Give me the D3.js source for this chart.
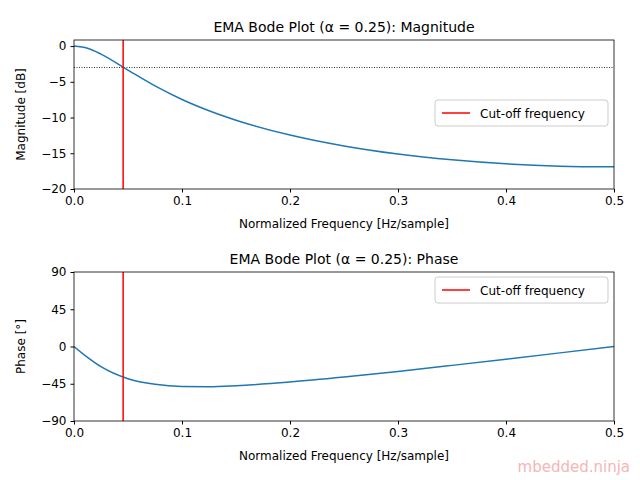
<!DOCTYPE html>
<html><head><meta charset="utf-8">
<script src="https://cdn.jsdelivr.net/npm/d3@7"></script>
<style>body{margin:0;background:#fff}text{font-family:"DejaVu Sans",sans-serif}</style>
</head><body><svg id="c" width="640" height="480"></svg>
<script>
const freqs=[0,0.0125,0.025,0.05,0.075,0.1,0.125,0.15,0.2,0.25,0.3,0.35,0.4,0.45,0.5];
const magDb=[0,-0.31,-1.12,-3.37,-5.58,-7.48,-9.05,-10.37,-12.45,-13.98,-15.11,-15.92,-16.48,-16.80,-16.90];
const phaseDeg=[0,-13.1,-24.4,-39.0,-45.7,-48.3,-48.5,-47.3,-42.9,-36.9,-30.1,-22.8,-15.3,-7.7,0];
const cutoff=0.0455;
const xTicks=[0,0.1,0.2,0.3,0.4,0.5];
const magTicks=[0,-5,-10,-15,-20];
const phaseTicks=[90,45,0,-45,-90];
const svg=d3.select("#c");
const X0=74,X1=614;
function panel(top,bottom,dom,yt,ys,yl,title,tickFmt,dotted){
  const x=d3.scaleLinear().domain([0,0.5]).range([X0,X1]);
  const y=d3.scaleLinear().domain(dom).range([bottom,top]);
  const g=svg.append("g");
  const clip="cl"+top;
  svg.append("clipPath").attr("id",clip).append("rect").attr("x",X0).attr("y",top).attr("width",X1-X0).attr("height",bottom-top);
  const ax=g.append("g").attr("transform",`translate(0,${bottom})`).call(d3.axisBottom(x).tickValues(xTicks).tickSize(3.5).tickPadding(4).tickFormat(d3.format(".1f")));
  const ay=g.append("g").attr("transform",`translate(${X0},0)`).call(d3.axisLeft(y).tickValues(yt).tickSize(3.5).tickPadding(4).tickFormat(tickFmt));
  [ax,ay].forEach(a=>{a.select(".domain").remove();a.selectAll("text").attr("font-size",12).attr("fill","#000");a.selectAll("line").attr("stroke","#000");});
  const p=g.append("g").attr("clip-path",`url(#${clip})`);
  if(dotted) p.append("line").attr("x1",X0).attr("x2",X1).attr("y1",y(-3)).attr("y2",y(-3)).attr("stroke","#000").attr("stroke-width",0.8).attr("stroke-dasharray","1,1.5");
  p.append("path").datum(freqs.map((f,i)=>[f,ys[i]])).attr("fill","none").attr("stroke","#1f77b4").attr("stroke-width",1.5)
   .attr("d",d3.line().x(d=>x(d[0])).y(d=>y(d[1])).curve(d3.curveMonotoneX));
  p.append("line").attr("x1",x(cutoff)).attr("x2",x(cutoff)).attr("y1",top).attr("y2",bottom).attr("stroke","red").attr("stroke-width",1.5);
  g.append("rect").attr("x",X0).attr("y",top).attr("width",X1-X0).attr("height",bottom-top).attr("fill","none").attr("stroke","#000").attr("stroke-width",0.8);
  g.append("text").attr("x",(X0+X1)/2).attr("y",top-8).attr("text-anchor","middle").attr("font-size",14).text(title);
  g.append("text").attr("x",(X0+X1)/2).attr("y",bottom+39).attr("text-anchor","middle").attr("font-size",12).text("Normalized Frequency [Hz/sample]");
  g.append("text").attr("transform",`translate(25,${(top+bottom)/2}) rotate(-90)`).attr("text-anchor","middle").attr("font-size",12).text(yl);
  return g;
}
function legend(y0){
  const g=svg.append("g");
  g.append("rect").attr("x",435).attr("y",y0).attr("width",173).attr("height",26).attr("rx",3).attr("fill","#fff").attr("fill-opacity",0.8).attr("stroke","#ccc");
  g.append("line").attr("x1",442).attr("x2",470).attr("y1",y0+13).attr("y2",y0+13).attr("stroke","red").attr("stroke-width",1.5);
  g.append("text").attr("x",480).attr("y",y0+17.5).attr("font-size",12).text("Cut-off frequency");
}
panel(40,189,[-20,0.85],magTicks,magDb,"Magnitude [dB]","EMA Bode Plot (α = 0.25): Magnitude",d=>d<0?"−"+(-d):d,true);
legend(100);
panel(272,421,[-90,90],phaseTicks,phaseDeg,"Phase [°]","EMA Bode Plot (α = 0.25): Phase",d=>d<0?"−"+(-d):d,false);
legend(277);
svg.append("text").attr("x",630).attr("y",472).attr("text-anchor","end").attr("font-size",15).attr("fill","#f4b6b6").text("mbedded.ninja");
</script></body></html>
